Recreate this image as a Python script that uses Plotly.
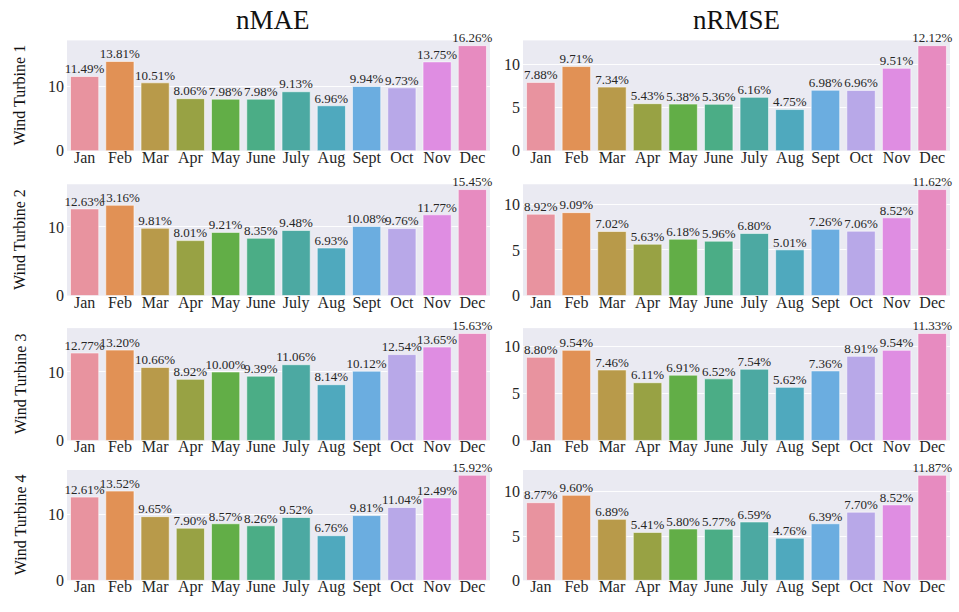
import plotly.graph_objects as go
from plotly.subplots import make_subplots

months = ["Jan", "Feb", "Mar", "Apr", "May", "June", "July", "Aug", "Sept", "Oct", "Nov", "Dec"]
turbines = ["Wind Turbine 1", "Wind Turbine 2", "Wind Turbine 3", "Wind Turbine 4"]
metrics = ["nMAE", "nRMSE"]

# nMAE (%) per month, one list per turbine
nmae_wt1 = [11.49, 13.81, 10.51, 8.06, 7.98, 7.98, 9.13, 6.96, 9.94, 9.73, 13.75, 16.26]
nmae_wt2 = [12.63, 13.16, 9.81, 8.01, 9.21, 8.35, 9.48, 6.93, 10.08, 9.76, 11.77, 15.45]
nmae_wt3 = [12.77, 13.20, 10.66, 8.92, 10.00, 9.39, 11.06, 8.14, 10.12, 12.54, 13.65, 15.63]
nmae_wt4 = [12.61, 13.52, 9.65, 7.90, 8.57, 8.26, 9.52, 6.76, 9.81, 11.04, 12.49, 15.92]

# nRMSE (%) per month, one list per turbine
nrmse_wt1 = [7.88, 9.71, 7.34, 5.43, 5.38, 5.36, 6.16, 4.75, 6.98, 6.96, 9.51, 12.12]
nrmse_wt2 = [8.92, 9.09, 7.02, 5.63, 6.18, 5.96, 6.80, 5.01, 7.26, 7.06, 8.52, 11.62]
nrmse_wt3 = [8.80, 9.54, 7.46, 6.11, 6.91, 6.52, 7.54, 5.62, 7.36, 8.91, 9.54, 11.33]
nrmse_wt4 = [8.77, 9.60, 6.89, 5.41, 5.80, 5.77, 6.59, 4.76, 6.39, 7.70, 8.52, 11.87]

nmae = [nmae_wt1, nmae_wt2, nmae_wt3, nmae_wt4]
nrmse = [nrmse_wt1, nrmse_wt2, nrmse_wt3, nrmse_wt4]

# desaturated husl-style palette, one colour per month
bar_colors = ["#E8939F", "#E19155", "#B89A4A", "#98A244", "#62AE47", "#4BAD86",
              "#4CA9A2", "#4FA9BE", "#6BADE0", "#B8A8E8", "#DF8DE2", "#E78BC0"]

FONT = "Liberation Serif"
INK = "#262626"
BG = "#EAEAF2"
W, H = 959, 612

fig = make_subplots(rows=4, cols=2)

# panel geometry in pixels
x_px = [(67, 490), (523, 950)]
y_px = [(41, 153), (187, 300), (333, 447), (477, 589)]
title_x_px = [273, 736]

for r in range(4):
    for c in range(2):
        vals = nmae[r] if c == 0 else nrmse[r]
        fig.add_trace(
            go.Bar(
                x=months,
                y=vals,
                marker=dict(color=bar_colors, line=dict(color="rgba(255,255,255,0.55)", width=1)),
                width=0.8,
                showlegend=False,
                hoverinfo="skip",
            ),
            row=r + 1, col=c + 1,
        )
        # value labels sitting on top of each bar
        fig.add_trace(
            go.Scatter(
                x=months,
                y=vals,
                mode="text",
                text=[f"{v:.2f}%" for v in vals],
                textposition="top center",
                textfont=dict(family=FONT, size=13, color=INK),
                cliponaxis=False,
                showlegend=False,
                hoverinfo="skip",
            ),
            row=r + 1, col=c + 1,
        )
        idx = r * 2 + c + 1
        xa = "xaxis" if idx == 1 else f"xaxis{idx}"
        ya = "yaxis" if idx == 1 else f"yaxis{idx}"
        x0, x1 = x_px[c]
        y0, y1 = y_px[r]
        fig.layout[xa].update(
            domain=[x0 / W, x1 / W],
            range=[-0.5, 11.5],
            showgrid=False,
            zeroline=False,
            showline=False,
            ticks="",
            ticklen=0,
            tickfont=dict(family=FONT, size=16, color=INK),
            ticklabelstandoff=-5,
        )
        fig.layout[ya].update(
            domain=[1 - y1 / H, 1 - y0 / H],
            range=[0, max(vals) * 1.05],
            dtick=10 if c == 0 else 5,
            showgrid=True,
            gridcolor="rgba(255,255,255,0.9)",
            gridwidth=1,
            zeroline=False,
            showline=False,
            ticks="",
            ticklen=0,
            tickfont=dict(family=FONT, size=16, color=INK),
            ticklabelstandoff=2,
        )

annotations = []
for c, name in enumerate(metrics):
    annotations.append(dict(
        text=name, x=title_x_px[c] / W, y=1 - 20 / H, xref="paper", yref="paper",
        xanchor="center", yanchor="middle", showarrow=False,
        font=dict(family=FONT, size=27, color="#111111"),
    ))
for r, name in enumerate(turbines):
    y0, y1 = y_px[r]
    annotations.append(dict(
        text=name, x=20 / W, y=1 - (y0 + y1) / 2 / H, xref="paper", yref="paper",
        xanchor="center", yanchor="middle", textangle=-90, showarrow=False,
        font=dict(family=FONT, size=16, color="#111111"),
    ))

fig.update_layout(
    width=W, height=H,
    margin=dict(l=0, r=0, t=0, b=0),
    font=dict(family=FONT, color=INK),
    paper_bgcolor="white",
    plot_bgcolor=BG,
    bargap=0.2,
    annotations=annotations,
)

fig.write_html("out.html")
